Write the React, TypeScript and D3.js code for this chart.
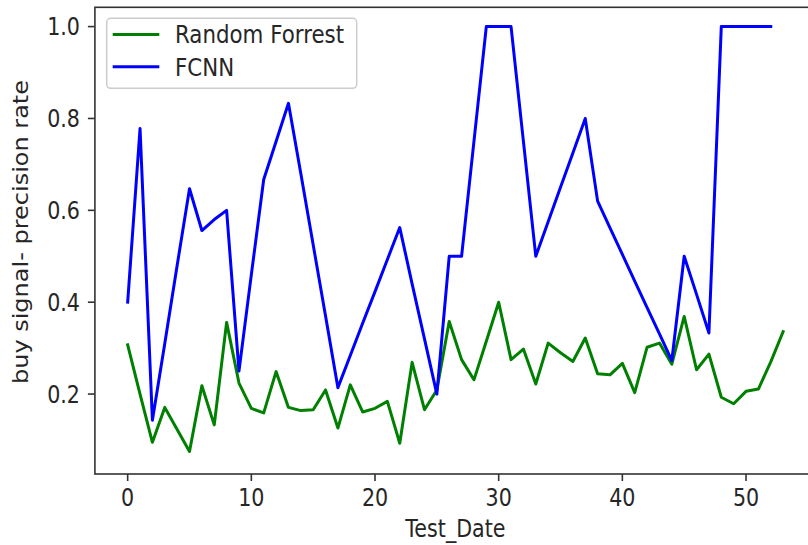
import React, { useEffect, useRef } from 'react';
import * as d3 from 'd3';

// values, index = Test_Date
const rfValues = [
  0.307, 0.2, 0.095, 0.171, 0.123, 0.075, 0.218, 0.133, 0.356, 0.224,
  0.169, 0.159, 0.249, 0.171, 0.164, 0.166, 0.209, 0.126, 0.22, 0.161,
  0.169, 0.184, 0.093, 0.269, 0.166, 0.209, 0.358, 0.275, 0.231, 0.315,
  0.4, 0.275, 0.298, 0.222, 0.311, 0.29, 0.271, 0.322, 0.244, 0.242,
  0.267, 0.203, 0.302, 0.311, 0.265, 0.369, 0.253, 0.287, 0.193, 0.179,
  0.206, 0.211, 0.27, 0.336,
];
const fcnnValues = [
  0.4, 0.778, 0.143, 0.31, 0.48, 0.647, 0.556, 0.58, 0.6, 0.25,
  0.46, 0.667, 0.75, 0.833, 0.68, 0.525, 0.37, 0.214, 0.284, 0.354,
  0.423, 0.493, 0.5625, 0.44, 0.32, 0.2, 0.5, 0.5, 0.75, 1.0,
  1.0, 1.0, 0.75, 0.5, 0.575, 0.65, 0.725, 0.8, 0.62, 0.562,
  0.504, 0.446, 0.388, 0.331, 0.273, 0.5, 0.417, 0.333, 1.0, 1.0,
  1.0, 1.0, 1.0,
];
const seriesNames = ['Random Forrest', 'FCNN'];
const seriesColors = ['green', 'blue'];
const xTicks = [0, 10, 20, 30, 40, 50];
const yTicks = [0.2, 0.4, 0.6, 0.8, 1.0];
const xLabel = 'Test_Date';
const yLabel = 'buy signal- precision rate';

const W = 808;
const H = 545;
const FONT = '"DejaVu Sans", sans-serif';
const FS = 24;
const SX = 0.86; // picture is squashed horizontally
const INK = '#262626';

const App = () => {
  const svgRef = useRef(null);

  useEffect(() => {
    const svg = d3.select(svgRef.current);
    svg.selectAll('*').remove();

    const x = d3.scaleLinear().domain([-2.65, 55.65]).range([94.9, 815.9]);
    const y = d3.scaleLinear().domain([0.026, 1.042]).range([474, 7.3]);

    const text = (g, tx, ty, str, anchor, rot = false, sx = SX) =>
      g.append('text')
        .attr('transform', rot
          ? `translate(${tx},${ty}) rotate(-90) scale(1,${sx})`
          : `translate(${tx},${ty}) scale(${sx},1)`)
        .attr('text-anchor', anchor)
        .attr('font-family', FONT)
        .attr('font-size', FS)
        .attr('fill', INK)
        .text(str);

    const [x0, x1] = x.range();
    const [yb, yt] = y.range();

    // lines
    const line = d3.line().x((d, i) => x(i)).y(d => y(d));
    [rfValues, fcnnValues].forEach((vals, k) => {
      svg.append('path')
        .datum(vals)
        .attr('d', line)
        .attr('fill', 'none')
        .attr('stroke', seriesColors[k])
        .attr('stroke-width', 3)
        .attr('stroke-linejoin', 'round')
        .attr('stroke-linecap', 'square');
    });

    // spines
    svg.append('rect')
      .attr('x', x0).attr('y', yt)
      .attr('width', x1 - x0).attr('height', yb - yt)
      .attr('fill', 'none')
      .attr('stroke', '#333')
      .attr('stroke-width', 1.6);

    // x ticks
    const gx = svg.append('g');
    xTicks.forEach(t => {
      gx.append('line')
        .attr('x1', x(t)).attr('x2', x(t))
        .attr('y1', yb).attr('y2', yb + 7)
        .attr('stroke', '#333').attr('stroke-width', 1.6);
      text(gx, x(t), 506, String(t), 'middle');
    });

    // y ticks
    const gy = svg.append('g');
    yTicks.forEach(t => {
      gy.append('line')
        .attr('x1', x0 - 7).attr('x2', x0)
        .attr('y1', y(t)).attr('y2', y(t))
        .attr('stroke', '#333').attr('stroke-width', 1.6);
      text(gy, 80, y(t) + 8.7, d3.format('.1f')(t), 'end');
    });

    text(svg, (x0 + x1) / 2, 537, xLabel, 'middle');
    text(svg, 28, 232, yLabel, 'middle', true);

    // legend
    const lg = svg.append('g');
    lg.append('rect')
      .attr('x', 106.7).attr('y', 18.3)
      .attr('width', 250).attr('height', 70)
      .attr('rx', 4)
      .attr('fill', 'white').attr('fill-opacity', 0.8)
      .attr('stroke', '#cccccc').attr('stroke-width', 1.5);
    seriesNames.forEach((name, k) => {
      const cy = 34.5 + k * 32.3;
      lg.append('line')
        .attr('x1', 112.7).attr('x2', 159.3)
        .attr('y1', cy).attr('y2', cy)
        .attr('stroke', seriesColors[k])
        .attr('stroke-width', 3);
      text(lg, 175, cy + 8.7, name, 'start', false, 0.89);
    });
  }, []);

  return (
    <svg
      ref={svgRef}
      width={W}
      height={H}
      style={{ position: 'absolute', left: 0, top: 0, background: '#fff' }}
    />
  );
};

export default App;
